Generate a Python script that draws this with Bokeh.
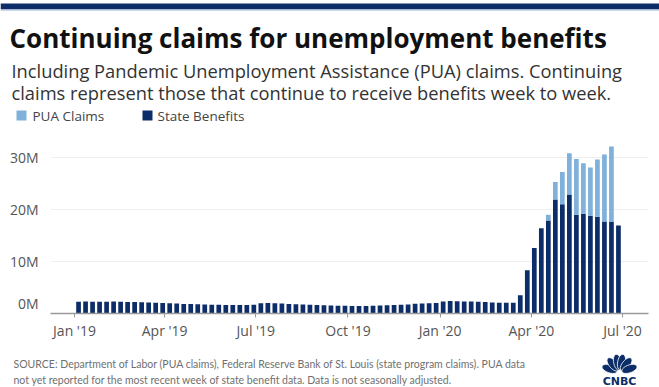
import numpy as np
import pandas as pd
from datetime import datetime
from bokeh.plotting import figure
from bokeh.layouts import column
from bokeh.models import ColumnDataSource, FixedTicker, Range1d
from bokeh.core.properties import value
from bokeh.embed import file_html
from bokeh.resources import INLINE

# ---------------- data (millions of claims, weekly, week ending Saturday) ----------------
weeks = pd.date_range("2019-01-05", "2020-06-27", freq="W-SAT")

state_benefits = [
    # 2019
    2.25, 2.30, 2.25, 2.25,                 # Jan
    2.28, 2.30, 2.25, 2.22,                 # Feb
    2.20, 2.15, 2.12, 2.08, 2.02,           # Mar
    1.95, 1.90, 1.85, 1.82,                 # Apr
    1.78, 1.72, 1.70, 1.68,                 # May
    1.65, 1.65, 1.62, 1.65, 1.70,           # Jun
    1.95, 2.00, 1.95, 1.90,                 # Jul
    1.85, 1.80, 1.72, 1.68, 1.62,           # Aug
    1.58, 1.52, 1.50, 1.48,                 # Sep
    1.45, 1.42, 1.45, 1.48,                 # Oct
    1.52, 1.58, 1.62, 1.70, 1.72,           # Nov
    1.88, 1.92, 1.98, 2.00,                 # Dec
    # 2020
    2.30, 2.40, 2.35, 2.30,                 # Jan
    2.30, 2.25, 2.20, 2.12, 2.07,           # Feb
    2.07, 2.07, 3.50, 8.30,                 # Mar
    12.6, 16.4, 17.9, 21.9,                 # Apr
    21.0, 22.9, 19.0, 19.2, 18.8,           # May
    18.6, 17.7, 17.6, 16.9,                 # Jun
]

pua_claims = [0.0] * 67 + [
    1.1, 3.4,                               # Apr 18, Apr 25
    6.2, 7.9, 10.7, 9.7, 9.3,               # May
    11.0, 12.9, 14.5, 0.0,                  # Jun (latest week not yet reported)
]

tick_dates = ["2019-01-01", "2019-04-01", "2019-07-01", "2019-10-01",
              "2020-01-01", "2020-04-01", "2020-07-01"]
tick_labels = ["Jan '19", "Apr '19", "Jul '19", "Oct '19", "Jan '20", "Apr '20", "Jul '20"]
y_ticks = [0, 10, 20, 30]
y_tick_labels = ["0M", "10M", "20M", "30M"]

title_text = "Continuing claims for unemployment benefits"
subtitle_lines = ["Including Pandemic Unemployment Assistance (PUA) claims. Continuing",
                  "claims represent those that continue to receive benefits week to week."]
series_names = ["PUA Claims", "State Benefits"]
source_lines = ["SOURCE: Department of Labor (PUA claims), Federal Reserve Bank of St. Louis (state program claims). PUA data",
                "not yet reported for the most recent week of state benefit data. Data is not seasonally adjusted."]

# ---------------- style / layout ----------------
NAVY = "#0c2d67"
LIGHT = "#80b1da"
FONT = "Open Sans"
W = 659
ZERO_LABEL_LIFT = 1.9      # the "0M" label sits just above the baseline


def blank(height, top, bottom):
    """A figure whose frame covers its whole canvas, in page pixel coordinates."""
    f = figure(width=W, height=height, output_backend="svg", toolbar_location=None,
               x_range=Range1d(0, W), y_range=Range1d(bottom, top),
               min_border=0, x_axis_location=None, y_axis_location=None)
    f.grid.visible = False
    f.outline_line_color = None
    f.background_fill_color = "white"
    f.border_fill_color = "white"
    f.frame_align = False
    return f


# ---------------- header ----------------
header = blank(140, 0, 140)
header.quad(left=[0], right=[W], top=[3], bottom=[9], color=NAVY, line_color=None)
header.quad(left=[0], right=[W], top=[9], bottom=[10.5], color="#c9d8ea", line_color=None)
header.text(x=[9], y=[37], text=[title_text], text_font=value(FONT),
            text_font_style="bold", text_font_size="26px", text_color="#111111",
            text_baseline="alphabetic")
header.text(x=[11, 11], y=[70, 92], text=subtitle_lines, text_font=value(FONT),
            text_font_size="18.3px", text_color="#333333", text_baseline="alphabetic")
# legend swatches + labels
header.rect(x=[21, 147], y=[115, 115], width=10, height=10,
            color=[LIGHT, NAVY], line_color=None)
header.text(x=[32, 157], y=[115, 115], text=series_names, text_font=value(FONT),
            text_font_size="13.5px", text_color="#444444", text_baseline="middle")

# ---------------- main chart ----------------
src = ColumnDataSource(dict(week=weeks, state=state_benefits, pua=pua_claims))

p = figure(output_backend="svg", toolbar_location=None,
           x_axis_type="datetime",
           x_range=Range1d(datetime(2018, 12, 8), datetime(2020, 7, 27)),
           y_range=Range1d(0, 33.27),
           frame_width=598, frame_height=173,
           min_border_left=50, min_border_right=11,
           min_border_top=0, min_border_bottom=27)
p.outline_line_color = None
p.background_fill_color = "white"
p.border_fill_color = "white"
p.frame_align = False

bar_w = 4.7 * 86400000
rs = p.vbar_stack(["state", "pua"], x="week", width=bar_w, color=[NAVY, LIGHT],
                  line_color=None, source=src)

tick_ms = [int(pd.Timestamp(d).value // 10**6) for d in tick_dates]
p.xaxis.ticker = FixedTicker(ticks=tick_ms)
p.xaxis.major_label_overrides = {t: l for t, l in zip(tick_ms, tick_labels)}
p.xaxis.axis_line_color = "#9a9a9a"
p.xaxis.axis_line_width = 1.5
p.xaxis.major_tick_line_color = "#9a9a9a"
p.xaxis.major_tick_out = 4
p.xaxis.major_tick_in = 0
p.xaxis.minor_tick_line_color = None
p.xaxis.major_label_standoff = 3
p.xaxis.major_label_text_font = FONT
p.xaxis.major_label_text_font_size = "14px"
p.xaxis.major_label_text_color = "#555555"

y_tick_pos = [t if t else ZERO_LABEL_LIFT for t in y_ticks]
p.yaxis.ticker = FixedTicker(ticks=y_tick_pos)
p.yaxis.major_label_overrides = {t: l for t, l in zip(y_tick_pos, y_tick_labels)}
p.yaxis.axis_line_color = None
p.yaxis.major_tick_line_color = None
p.yaxis.minor_tick_line_color = None
p.yaxis.major_label_standoff = 6
p.yaxis.major_label_text_font = FONT
p.yaxis.major_label_text_font_size = "14px"
p.yaxis.major_label_text_color = "#555555"

p.xgrid.grid_line_color = None
p.ygrid.ticker = FixedTicker(ticks=[t for t in y_ticks if t])
p.ygrid.grid_line_color = "#efefef"

# ---------------- footer ----------------
footer = blank(47, 340, 387)
footer.text(x=[13, 13], y=[361, 377], text=source_lines, text_font=value("Lato"),
            text_font_size="10.5px", text_color="#707070", text_baseline="middle")

# CNBC peacock logo
bx, by = 619, 370
fx, fy = [], []
t = np.linspace(0, 2 * np.pi, 24)
for ang in [160, 129, 101, 79, 51, 20]:
    a = np.deg2rad(ang)
    cx, cy = bx + 10.5 * np.cos(a), by - 10.5 * np.sin(a)
    u = 8 * np.cos(t)
    v = 3.9 * np.sin(t)
    fx.append(list(cx + u * np.cos(a) - v * np.sin(a)))
    fy.append(list(cy - (u * np.sin(a) + v * np.cos(a))))
footer.patches(xs=fx, ys=fy, fill_color=NAVY, line_color="white", line_width=0.8)
footer.text(x=[619], y=[379], text=["CNBC"], text_font=value("DejaVu Sans"),
            text_font_style="bold", text_font_size="11px", text_color=NAVY,
            text_align="center", text_baseline="middle")

layout = column(header, p, footer, spacing=0)
open("out.html", "w").write(file_html(layout, INLINE))
